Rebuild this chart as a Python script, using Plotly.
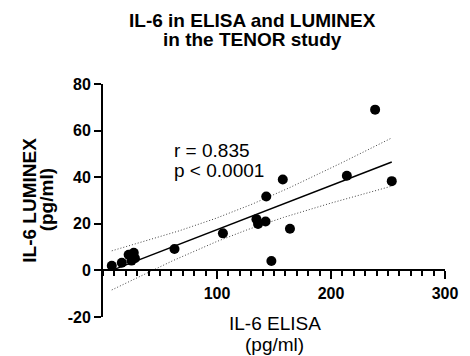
import numpy as np
import plotly.graph_objects as go

# IL-6 measured by ELISA (x) and LUMINEX (y), pg/ml
elisa = [7.7, 16.5, 22.5, 25.0, 27.0, 28.0, 62.7, 105.2, 134.6, 136.0,
         142.6, 143.2, 147.7, 157.7, 164.0, 213.9, 238.7, 253.3]
luminex = [2.0, 3.3, 6.7, 4.2, 7.6, 5.2, 9.2, 15.9, 22.0, 19.9,
           21.0, 31.7, 4.0, 39.0, 17.9, 40.6, 69.0, 38.3]

stat_lines = ["r = 0.835", "p < 0.0001"]
x_ticks = [100, 200, 300]
y_ticks = [-20, 0, 20, 40, 60, 80]

# linear regression with 95% confidence band of the fitted line
x = np.array(elisa)
y = np.array(luminex)
n = len(x)
slope, intercept = np.polyfit(x, y, 1)
resid = y - (slope * x + intercept)
s = np.sqrt(np.sum(resid ** 2) / (n - 2))
sxx = np.sum((x - x.mean()) ** 2)
T_CRIT = 2.120  # two-sided 95%, df = n - 2 = 16
xf = np.linspace(x.min(), x.max(), 200)
yf = slope * xf + intercept
half = T_CRIT * s * np.sqrt(1 / n + (xf - x.mean()) ** 2 / sxx)

W, H = 470, 356
L, R, T, B = 103, 17, 84, 39
PW, PH = W - L - R, H - T - B


def px(xp):
    return (xp - L) / PW


def py(yp):
    return (H - B - yp) / PH


FONT = "Arial, Liberation Sans, sans-serif"

fig = go.Figure()
for band in (yf + half, yf - half):
    fig.add_trace(go.Scatter(x=xf, y=band, mode="lines",
                             line=dict(color="#444", width=1, dash="1px,2px"),
                             hoverinfo="skip", showlegend=False))
fig.add_trace(go.Scatter(x=xf, y=yf, mode="lines",
                         line=dict(color="black", width=1.5),
                         showlegend=False))
fig.add_trace(go.Scatter(x=elisa, y=luminex, mode="markers",
                         marker=dict(color="black", size=10),
                         showlegend=False))

annotations = []
title_lines = ["<b>IL-6 in ELISA and LUMINEX</b>", "<b>in the TENOR study</b>"]
for i, t in enumerate(title_lines):
    annotations.append(dict(text=t, xref="paper", yref="paper",
                            x=px(256), y=py(20.5 + 19.5 * i), xanchor="center",
                            yanchor="middle", showarrow=False,
                            font=dict(family=FONT, size=19, color="black")))
for i, t in enumerate(stat_lines):
    annotations.append(dict(text=t, xref="paper", yref="paper",
                            x=px(174), y=py(150 + 20 * i), xanchor="left",
                            yanchor="middle", showarrow=False,
                            font=dict(family=FONT, size=19, color="black")))
for i, t in enumerate(["<b>IL-6 LUMINEX</b>", "<b>(pg/ml)</b>"]):
    annotations.append(dict(text=t, xref="paper", yref="paper",
                            x=px(27 + 18 * i), y=py(200), xanchor="center",
                            yanchor="middle", textangle=-90, showarrow=False,
                            font=dict(family=FONT, size=19, color="black")))
for i, t in enumerate(["IL-6 ELISA", "(pg/ml)"]):
    annotations.append(dict(text=t, xref="paper", yref="paper",
                            x=px(279), y=py(323 + 21 * i), xanchor="center",
                            yanchor="middle", showarrow=False,
                            font=dict(family=FONT, size=19, color="black")))

fig.update_layout(
    width=W, height=H,
    margin=dict(l=L, r=R, t=T, b=B),
    paper_bgcolor="white", plot_bgcolor="white",
    annotations=annotations,
    xaxis=dict(range=[0, 300], tickvals=x_ticks,
               ticktext=[f"<b>{v}</b>" for v in x_ticks],
               anchor="free", position=0.2,
               showline=True, linecolor="black", linewidth=2,
               ticks="outside", ticklen=8, tickwidth=2, tickcolor="black",
               minor=dict(dtick=10, ticks="outside", ticklen=5,
                          tickwidth=2, tickcolor="black"),
               showgrid=False, zeroline=False,
               tickfont=dict(family=FONT, size=16, color="black")),
    yaxis=dict(range=[-20, 80], tickvals=y_ticks,
               ticktext=[f"<b>{v}</b>" for v in y_ticks],
               showline=True, linecolor="black", linewidth=2,
               ticks="outside", ticklen=7, tickwidth=2, tickcolor="black",
               showgrid=False, zeroline=False,
               tickfont=dict(family=FONT, size=16, color="black")),
)

fig.write_html("out.html")
